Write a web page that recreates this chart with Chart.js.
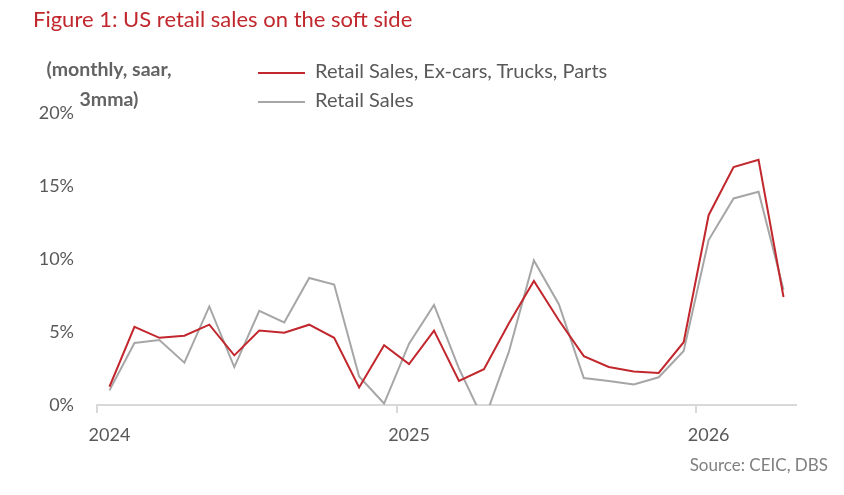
<!DOCTYPE html>
<html lang="en">
<head>
<meta charset="UTF-8">
<title>US retail sales on the soft side</title>
<script src="https://cdn.jsdelivr.net/npm/chart.js"></script>
<style>
  html, body { margin: 0; padding: 0; background: #fff; }
  .janela { position: relative; width: 844px; height: 495px; font-family: Lato, "Open Sans", sans-serif; color: #595959; }
  #grafico { position: absolute; left: 0; top: 0; }
  .titulo { position: absolute; left: 33px; top: 5px; font-size: 22px; color: #c0282d; white-space: nowrap; }
  .unidade { position: absolute; left: 19px; top: 54px; width: 180px; text-align: center; font-size: 19.5px; font-weight: bold; line-height: 30px; color: #636363; }
  .legenda { position: absolute; left: 258px; top: 56px; font-size: 20px; line-height: 29px; }
  .legenda div { white-space: nowrap; }
  .legenda span.linha { display: inline-block; width: 47px; height: 2px; vertical-align: middle; margin-right: 10px; }
  .fonte { position: absolute; right: 16px; top: 454px; font-size: 17px; color: #7f7f7f; }
</style>
</head>
<body>
<div class="janela">
  <canvas id="grafico" width="844" height="495"></canvas>
  <div class="titulo">Figure 1: US retail sales on the soft side</div>
  <div class="unidade">(monthly, saar,<br>3mma)</div>
  <div class="legenda" id="legenda"></div>
  <div class="fonte">Source: CEIC, DBS</div>
</div>

<script>
// meses de jan/2024 a abr/2026
var meses = ['2024-01','2024-02','2024-03','2024-04','2024-05','2024-06','2024-07','2024-08','2024-09','2024-10','2024-11','2024-12',
             '2025-01','2025-02','2025-03','2025-04','2025-05','2025-06','2025-07','2025-08','2025-09','2025-10','2025-11','2025-12',
             '2026-01','2026-02','2026-03','2026-04'];

var exCarros = [1.25, 5.35, 4.6, 4.75, 5.5, 3.4, 5.1, 4.95, 5.5, 4.6, 1.2, 4.1,
                2.8, 5.1, 1.65, 2.45, 5.6, 8.5, 5.8, 3.35, 2.6, 2.3, 2.2, 4.3,
                13.0, 16.3, 16.8, 7.4];

var varejo = [1.0, 4.25, 4.45, 2.9, 6.75, 2.6, 6.45, 5.65, 8.7, 8.25, 1.95, 0.1,
              4.2, 6.85, 2.5, -1.1, 3.65, 9.9, 6.9, 1.85, 1.65, 1.4, 1.9, 3.7,
              11.3, 14.15, 14.6, 7.9];

var nomes = ['Retail Sales, Ex-cars, Trucks, Parts', 'Retail Sales'];
var ticksY = [0, 5, 10, 15, 20];

var cores = ['#c1272d', '#a6a6a6'];

var ctx = document.getElementById('grafico').getContext('2d');

new Chart(ctx, {
    type: 'line',
    data: {
        labels: meses,
        datasets: [{
            label: nomes[0],
            data: exCarros,
            borderColor: cores[0],
            borderWidth: 2,
            pointRadius: 0,
            tension: 0
        }, {
            label: nomes[1],
            data: varejo,
            borderColor: cores[1],
            borderWidth: 2,
            pointRadius: 0,
            tension: 0
        }]
    },
    options: {
        responsive: false,
        animation: false,
        layout: { padding: { top: 113, right: 48, bottom: 0, left: 0 } },
        plugins: {
            legend: { display: false },
            tooltip: { enabled: false }
        },
        scales: {
            x: {
                offset: true,
                grid: {
                    offset: true,
                    drawOnChartArea: false,
                    drawTicks: true,
                    tickLength: 8,
                    lineWidth: 2,
                    color: function (c) { return c.index % 12 === 0 && c.index < meses.length ? '#d9d9d9' : 'rgba(0,0,0,0)'; }
                },
                border: { display: true, color: '#d9d9d9', width: 2 },
                ticks: {
                    autoSkip: false,
                    maxRotation: 0,
                    padding: 11,
                    color: '#595959',
                    font: { family: 'Lato', size: 18 },
                    callback: function (v, i) {
                        var m = meses[i];
                        return m.slice(5) === '01' ? m.slice(0, 4) : '';
                    }
                },
                afterFit: function (s) { s.height = 90; }
            },
            y: {
                min: 0,
                max: 20,
                grid: { display: false, drawTicks: false },
                border: { display: false },
                afterBuildTicks: function (s) { s.ticks = ticksY.map(function (v) { return { value: v }; }); },
                ticks: {
                    padding: 23,
                    color: '#595959',
                    font: { family: 'Lato', size: 18 },
                    callback: function (v) { return v + '%'; }
                },
                afterFit: function (s) { s.width = 97; }
            }
        }
    }
});

// legenda em HTML
var leg = document.getElementById('legenda');
nomes.forEach(function (n, i) {
    var d = document.createElement('div');
    d.innerHTML = '<span class="linha" style="background:' + cores[i] + '"></span>' + n;
    leg.appendChild(d);
});
</script>
</body>
</html>
